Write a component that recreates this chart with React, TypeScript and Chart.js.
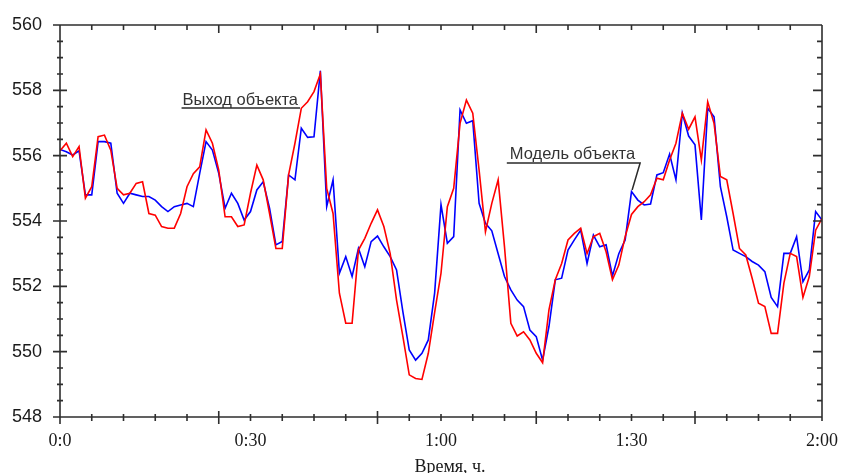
import { useEffect, useRef } from "react";
import { Chart, registerables } from "chart.js";

Chart.register(...registerables);

// Time, minutes
const TIME_MIN = [
  0, 1, 2, 3, 4, 5, 6, 7, 8, 9, 10, 11, 12, 13, 14, 15, 16, 17, 18, 19,
  20, 21, 22, 23, 24, 25, 26, 27, 28, 29, 30, 31, 32, 33, 34, 35, 36, 37, 38, 39,
  40, 41, 42, 43, 44, 45, 46, 47, 48, 49, 50, 51, 52, 53, 54, 55, 56, 57, 58, 59,
  60, 61, 62, 63, 64, 65, 66, 67, 68, 69, 70, 71, 72, 73, 74, 75, 76, 77, 78, 79,
  80, 81, 82, 83, 84, 85, 86, 87, 88, 89, 90, 91, 92, 93, 94, 95, 96, 97, 98, 99,
  100, 101, 102, 103, 104, 105, 106, 107, 108, 109, 110, 111, 112, 113, 114, 115, 116, 117, 118, 119,
  120,
];

// "Выход объекта" (red)
const OBJECT_OUTPUT = [
  556.15, 556.38, 555.97, 556.28, 554.7, 555.05, 556.58, 556.63, 556.17, 555.0,
  554.8, 554.85, 555.15, 555.2, 554.23, 554.18, 553.83, 553.78, 553.78, 554.23,
  555.05, 555.45, 555.66, 556.79, 556.38, 555.56, 554.13, 554.13, 553.83, 553.88,
  554.85, 555.71, 555.26, 554.23, 553.16, 553.16, 555.41, 556.38, 557.45, 557.65,
  557.96, 558.5, 555.0, 554.23, 551.79, 550.87, 550.87, 553.11, 553.47, 553.93,
  554.34, 553.83, 553.0, 551.58, 550.46, 549.29, 549.18, 549.15, 549.95, 551.2,
  552.4, 554.44, 555.0, 556.99, 557.7, 557.3, 555.56, 553.67, 554.54, 555.26,
  553.21, 550.87, 550.48, 550.61, 550.36, 549.95, 549.66, 551.28, 552.2, 552.7,
  553.42, 553.62, 553.78, 553.0, 553.52, 553.62, 553.06, 552.2, 552.65, 553.52,
  554.2, 554.44, 554.59, 554.8, 555.31, 555.26, 555.87, 556.38, 557.3, 556.81,
  557.19, 555.87, 557.65, 556.99, 555.36, 555.26, 554.23, 553.16, 552.96, 552.25,
  551.48, 551.38, 550.56, 550.56, 552.1, 553.01, 552.91, 551.66, 552.3, 553.72,
  554.08,
];

// "Модель объекта" (blue)
const OBJECT_MODEL = [
  556.19, 556.12, 556.02, 556.15, 554.8, 554.8, 556.43, 556.43, 556.38, 554.85,
  554.54, 554.85, 554.8, 554.75, 554.75, 554.64, 554.44, 554.29, 554.44, 554.49,
  554.54, 554.44, 555.46, 556.43, 556.17, 555.46, 554.39, 554.85, 554.54, 554.03,
  554.29, 554.95, 555.2, 554.39, 553.27, 553.37, 555.41, 555.26, 556.84, 556.56,
  556.58, 558.6, 554.44, 555.26, 552.4, 552.91, 552.3, 553.16, 552.6, 553.37,
  553.54, 553.21, 552.91, 552.5, 551.22, 550.05, 549.74, 549.95, 550.36, 551.8,
  554.5, 553.32, 553.52, 557.4, 556.99, 557.07, 554.54, 553.93, 553.7, 553.0,
  552.3, 551.89, 551.58, 551.38, 550.66, 550.46, 549.74, 550.77, 552.2, 552.25,
  553.11, 553.42, 553.72, 552.7, 553.57, 553.21, 553.27, 552.32, 553.0, 553.42,
  554.9, 554.64, 554.49, 554.52, 555.41, 555.48, 556.05, 555.26, 557.3, 556.6,
  556.33, 554.03, 557.45, 557.19, 555.05, 554.13, 553.11, 553.01, 552.91, 552.76,
  552.65, 552.45, 551.66, 551.38, 553.01, 553.01, 553.52, 552.14, 552.5, 554.29,
  554.03,
];

const X_TICK_VALUES = [0, 30, 60, 90, 120];
const X_TICK_LABELS = ["0:0", "0:30", "1:00", "1:30", "2:00"];
const X_MAJOR_MARKS = [0, 25, 50, 75, 100];
const X_MINOR_MARKS = [5, 10, 15, 20, 30, 35, 40, 45, 55, 60, 65, 70, 80, 85, 90, 95, 105, 110, 115];
const Y_MAJOR_MARKS = [548, 550, 552, 554, 556, 558, 560];
const Y_MINOR_MARKS = [548.5, 549, 549.5, 550.5, 551, 551.5, 552.5, 553, 553.5, 554.5, 555, 555.5, 556.5, 557, 557.5, 558.5, 559, 559.5];

const AXIS_TITLE = "Время, ч.";

// Callouts: anchor in data coordinates (minutes, value)
const CALLOUTS = [
  { text: "Выход объекта", anchor: [37.8, 557.46] },
  { text: "Модель объекта", anchor: [90.1, 554.95] },
];

const AXIS_COLOR = "#2e2e2e";

const framePlugin = {
  id: "frameTicks",
  afterDraw(chart: any) {
    const { ctx, chartArea } = chart;
    const xs = chart.scales.x;
    const ys = chart.scales.y;
    const L = chartArea.left, R = chartArea.right, T = chartArea.top, B = chartArea.bottom;
    ctx.save();
    ctx.strokeStyle = AXIS_COLOR;
    ctx.lineWidth = 1.6;
    ctx.beginPath();
    // frame
    ctx.moveTo(L, T); ctx.lineTo(R, T);
    ctx.moveTo(L, T); ctx.lineTo(L, B);
    ctx.moveTo(L - 7, B); ctx.lineTo(R, B);
    ctx.moveTo(R, T); ctx.lineTo(R, B + 4);
    // x ticks
    for (const v of X_MAJOR_MARKS) {
      const px = xs.getPixelForValue(v);
      ctx.moveTo(px, B - 6); ctx.lineTo(px, B + 7);
      ctx.moveTo(px, T); ctx.lineTo(px, T + 8);
    }
    for (const v of X_MINOR_MARKS) {
      const px = xs.getPixelForValue(v);
      ctx.moveTo(px, B - 3); ctx.lineTo(px, B + 4);
      ctx.moveTo(px, T); ctx.lineTo(px, T + 5);
    }
    // y ticks
    for (const v of Y_MAJOR_MARKS) {
      const py = ys.getPixelForValue(v);
      ctx.moveTo(L - 7, py); ctx.lineTo(L + 7, py);
      ctx.moveTo(R - 9, py); ctx.lineTo(R, py);
    }
    for (const v of Y_MINOR_MARKS) {
      const py = ys.getPixelForValue(v);
      ctx.moveTo(L - 3, py); ctx.lineTo(L + 3, py);
      ctx.moveTo(R - 5, py); ctx.lineTo(R, py);
    }
    ctx.stroke();

    // axis title
    ctx.fillStyle = "#1a1a1a";
    ctx.font = "18px 'Liberation Serif'";
    ctx.textAlign = "center";
    ctx.textBaseline = "alphabetic";
    ctx.fillText(AXIS_TITLE, (L + R) / 2 + 9, B + 55);

    // callouts
    ctx.font = "16.5px 'Liberation Sans'";
    ctx.textAlign = "left";
    ctx.fillStyle = "#333";
    ctx.lineWidth = 1.5;
    ctx.strokeStyle = "#2a2a2a";
    // first: underline ends at anchor
    {
      const c = CALLOUTS[0];
      const ax = xs.getPixelForValue(c.anchor[0]);
      const ay = ys.getPixelForValue(c.anchor[1]);
      const w = ctx.measureText(c.text).width;
      const x0 = ax - w - 3;
      ctx.fillText(c.text, x0 + 1, ay - 3);
      ctx.beginPath();
      ctx.moveTo(x0, ay); ctx.lineTo(ax, ay);
      ctx.stroke();
    }
    // second: underline then diagonal down to anchor
    {
      const c = CALLOUTS[1];
      const ax = xs.getPixelForValue(c.anchor[0]);
      const ay = ys.getPixelForValue(c.anchor[1]);
      const w = ctx.measureText(c.text).width;
      const ux = ax + 8, uy = ay - 27;
      const x0 = ux - w - 8;
      ctx.fillText(c.text, x0 + 3, uy - 4);
      ctx.beginPath();
      ctx.moveTo(x0, uy); ctx.lineTo(ux, uy); ctx.lineTo(ax, ay);
      ctx.stroke();
    }
    ctx.restore();
  },
};

export default function App() {
  const ref = useRef<HTMLCanvasElement | null>(null);
  useEffect(() => {
    if (!ref.current) return;
    const chart = new Chart(ref.current, {
      type: "line",
      data: {
        labels: TIME_MIN,
        datasets: [
          {
            label: "Выход объекта",
            data: OBJECT_OUTPUT,
            borderColor: "#ff0000",
            borderWidth: 1.6,
            pointRadius: 0,
            tension: 0,
            fill: false,
          },
          {
            label: "Модель объекта",
            data: OBJECT_MODEL,
            borderColor: "#0000ff",
            borderWidth: 1.6,
            pointRadius: 0,
            tension: 0,
            fill: false,
          },
        ],
      },
      options: {
        responsive: false,
        animation: false,
        devicePixelRatio: 1,
        layout: { padding: { top: 25, right: 19, bottom: 0, left: 0 } },
        plugins: { legend: { display: false }, tooltip: { enabled: false } },
        scales: {
          x: {
            type: "linear",
            min: 0,
            max: 120,
            grid: { display: false, drawTicks: false },
            border: { display: false },
            ticks: {
              stepSize: 30,
              autoSkip: false,
              maxRotation: 0,
              padding: 13,
              color: "#1a1a1a",
              font: { family: "'Liberation Serif'", size: 18 },
              callback: (v: any) => {
                const i = X_TICK_VALUES.indexOf(Number(v));
                return i >= 0 ? X_TICK_LABELS[i] : "";
              },
            },
            afterFit: (s: any) => {
              s.height = 56;
              s.paddingLeft = 0;
              s.paddingRight = 0;
            },
          },
          y: {
            min: 548,
            max: 560,
            grid: { display: false, drawTicks: false },
            border: { display: false },
            ticks: {
              stepSize: 2,
              padding: 18,
              color: "#1a1a1a",
              font: { family: "'Liberation Sans'", size: 18 },
            },
            afterFit: (s: any) => {
              s.width = 60;
              s.paddingTop = 0;
              s.paddingBottom = 0;
            },
          },
        },
      },
      plugins: [framePlugin],
    });
    return () => chart.destroy();
  }, []);
  return (
    <div style={{ position: "absolute", left: 0, top: 0, width: 841, height: 473, background: "#fff" }}>
      <canvas ref={ref} width={841} height={473} style={{ display: "block" }} />
    </div>
  );
}
